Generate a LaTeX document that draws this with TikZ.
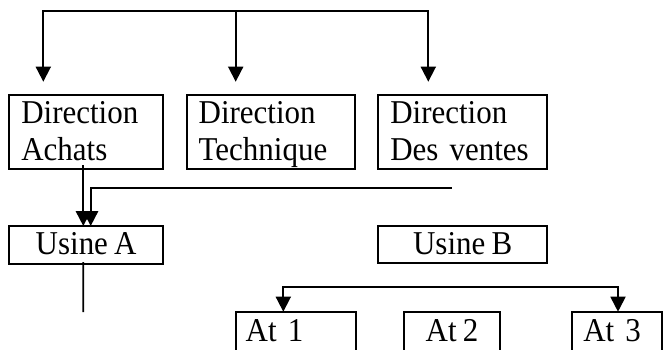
\documentclass[tikz,border=0pt]{standalone}
\usepackage{fontspec}
\setmainfont{Liberation Serif}[FakeStretch=0.93,WordSpace=0.8]
\usetikzlibrary{arrows.meta,calc}
% fixed line height so every box places its baselines the same way
\newcommand\linestrut{\vrule height 28.3pt depth 8.4pt width 0pt}
\begin{document}
\begin{tikzpicture}[x=1pt,y=-1pt,
  font=\fontsize{33.3pt}{36.7pt}\selectfont,
  box/.style={draw, line width=2.2pt, outer sep=0pt, inner xsep=12pt,
              inner ysep=0pt, anchor=north west},
  lbox/.style={box, align=left},
  conn/.style={line width=1.8pt},
  arr/.style={conn, -{Triangle[width=15pt,length=15pt]}}]
\useasboundingbox (0,0) rectangle (663,349);
\clip (0,0) rectangle (663,349);

% directions
\node[lbox, text width=129.7pt, minimum height=74pt] (dach) at (9.3,95)
  {\linestrut Direction\\\linestrut Achats};
\node[lbox, text width=144.3pt, minimum height=74pt] (dtec) at (186.7,95)
  {\linestrut Direction\\\linestrut Technique};
\node[lbox, text width=144.7pt, minimum height=74pt] (dven) at (378.3,95)
  {\linestrut Direction\\\linestrut Des ventes};

% plants
\node[box, minimum width=153.7pt, minimum height=38pt] (usa) at (9.3,226)
  {\linestrut Usine A};
\node[box, minimum width=168.7pt, minimum height=37pt] (usb) at (378.3,226)
  {\linestrut Usine B};

% workshops
\node[lbox, inner xsep=10pt, text width=100pt, minimum height=40pt] (at1) at (235.7,311.7)
  {\linestrut At 1};
\node[box, minimum width=96pt, minimum height=40pt] (at2) at (404,311.7)
  {\linestrut At 2};
\node[lbox, inner xsep=11pt, text width=67.4pt, minimum height=40pt] (at3) at (572.3,311.7)
  {\linestrut At 3};

% top distribution line
\coordinate (topL) at (43.3,11);
\coordinate (topM) at (235.7,11);
\coordinate (topR) at (428.3,11);
\draw[arr] (topM) -- (topL) -- ($(topL |- dach.north)+(0,-13.3)$);
\draw[arr] (topM) -- ($(topM |- dtec.north)+(0,-13.3)$);
\draw[arr] (topM) -- (topR) -- ($(topR |- dven.north)+(0,-13.3)$);

% links into Usine A
\draw[arr] ([xshift=-2.85pt,yshift=4pt]dach.south) -- ([xshift=-2.85pt]usa.north);
\coordinate (feed) at (451.7,188.3);
\draw[arr] (feed) -| ([xshift=4.55pt]usa.north);

% line below Usine A
\coordinate (tail) at (83.3,312);
\draw[conn] ([xshift=-2.85pt,yshift=2pt]usa.south) -- (tail);

% workshop distribution line
\coordinate (busL) at (283.3,287);
\coordinate (busR) at (618,287);
\draw[arr] (busR) -- (busL) -- (busL |- at1.north);
\draw[arr] (busL) -- (busR) -- (busR |- at3.north);
\end{tikzpicture}
\end{document}
